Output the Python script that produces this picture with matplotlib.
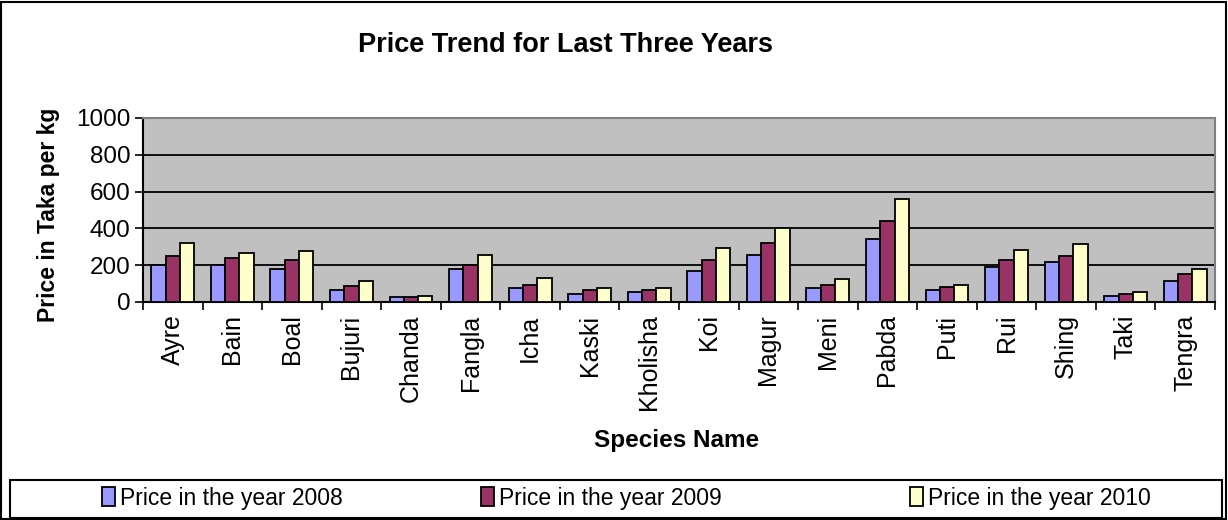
import numpy as np
import matplotlib
matplotlib.use("Agg")
import matplotlib.pyplot as plt
from matplotlib.patches import Rectangle

plt.rcParams["font.family"] = ["Liberation Sans", "DejaVu Sans"]

# Data (Taka per kg)
species = ["Ayre", "Bain", "Boal", "Bujuri", "Chanda", "Fangla", "Icha", "Kaski",
           "Kholisha", "Koi", "Magur", "Meni", "Pabda", "Puti", "Rui", "Shing",
           "Taki", "Tengra"]
price_2008 = [200, 200, 180, 65, 25, 180, 75, 45, 55, 170, 255, 75, 340, 65, 190, 220, 35, 115]
price_2009 = [250, 240, 230, 85, 27, 200, 95, 65, 65, 230, 320, 95, 440, 84, 230, 250, 45, 150]
price_2010 = [320, 265, 275, 115, 35, 255, 130, 75, 75, 295, 400, 125, 560, 95, 285, 315, 55, 180]
series_labels = ["Price in the year 2008", "Price in the year 2009", "Price in the year 2010"]
colors = ["#9999FF", "#993366", "#FFFFCC"]

W, H = 1228, 520
fig = plt.figure(figsize=(W / 100, H / 100), dpi=100)
ax = fig.add_axes([143 / W, (H - 302) / H, (1215 - 143) / W, (302 - 118) / H])

x = np.arange(len(species))
bw = 0.24
bars = []
for i, (vals, c, lab) in enumerate(zip([price_2008, price_2009, price_2010], colors, series_labels)):
    b = ax.bar(x + (i - 1) * bw, vals, bw, color=c, edgecolor="black", linewidth=1.3,
               label=lab, zorder=3)
    bars.append(b)

ax.set_facecolor("#C0C0C0")
ax.set_xlim(-0.5, len(species) - 0.5)
ax.set_ylim(0, 1000)
ax.set_yticks(np.arange(0, 1001, 200))
ax.yaxis.grid(True, color="black", linewidth=1.3, zorder=1)
ax.set_axisbelow(True)

# category separators as ticks, labels centred under groups
ax.set_xticks(np.arange(-0.5, len(species) + 0.5, 1))
ax.set_xticklabels([])
ax.set_xticks(x, minor=True)
ax.set_xticklabels(species, minor=True, rotation=90, fontsize=18)
ax.tick_params(axis="x", which="minor", length=0, pad=9)
ax.tick_params(axis="x", which="major", length=6, width=1.2, color="black")
ax.tick_params(axis="y", length=6, width=1.2, labelsize=17.5, pad=3)

for s in ["top", "right"]:
    ax.spines[s].set_color("#808080")
    ax.spines[s].set_linewidth(1.5)
ax.spines["left"].set_linewidth(1.5)
ax.spines["bottom"].set_linewidth(1.5)

fig.text(565 / W, 1 - 45 / H, "Price Trend for Last Three Years", fontsize=19.5,
         fontweight="bold", ha="center", va="center")
fig.text(49 / W, 1 - 215 / H, "Price in Taka per kg", fontsize=16.5, fontweight="bold",
         rotation=90, ha="center", va="center")
fig.text(677 / W, 1 - 440 / H, "Species Name", fontsize=17.5, fontweight="bold",
         ha="center", va="center")

# outer border and legend box
fig.patches.append(Rectangle((1 / W, 1 / H), (W - 3) / W, (H - 3) / H, transform=fig.transFigure,
                             fill=False, edgecolor="black", linewidth=1.5))
fig.patches.append(Rectangle((10 / W, 2 / H), (1222 - 10) / W, (518 - 480) / H,
                             transform=fig.transFigure, fill=False, edgecolor="black",
                             linewidth=1.5))

handle_x = [102, 481, 910]
for b, lab, hx in zip(bars, series_labels, handle_x):
    fig.legend([b], [lab], loc="center left", bbox_to_anchor=(hx / W, 1 - 498 / H),
               frameon=False, fontsize=16.5, handlelength=0.55, handleheight=0.9,
               handletextpad=0.25, borderpad=0, borderaxespad=0)

fig.savefig("out.png", dpi=100)
